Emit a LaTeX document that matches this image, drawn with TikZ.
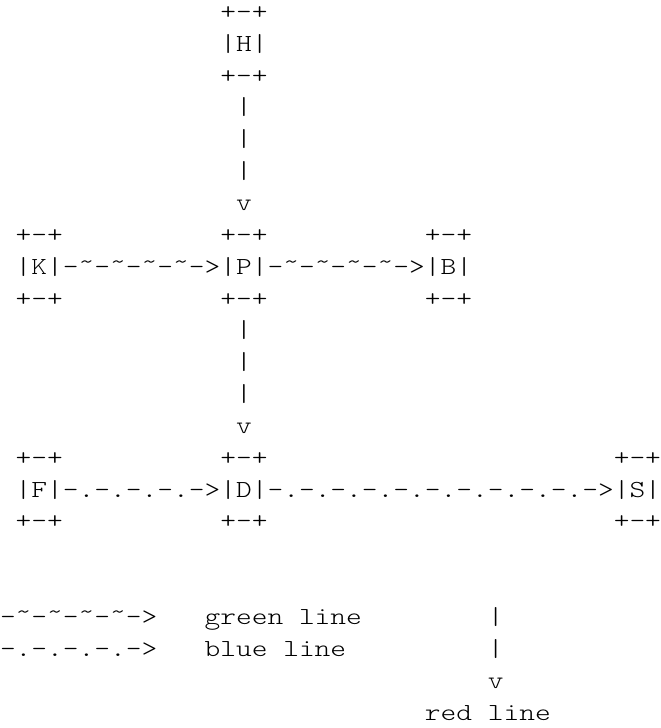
\documentclass[tikz,border=0pt]{standalone}
\usepackage{fontspec}
\newfontfamily\asciifont[Extension=.otf,FakeStretch=1.2235]{lmmonolt10-regular}
\newcommand\tld{\raisebox{5pt}{\textasciitilde}}
\newcommand\asciirows[1]{\begin{tabular}{@{}c@{}}#1\end{tabular}}

\begin{document}
\begin{tikzpicture}[x=15.738pt,y=-31.85pt,
ascii/.style={inner sep=0pt,outer sep=0pt,font={\asciifont\fontsize{24.5}{31.85}\selectfont}}]
\fill[white,use as bounding box] (-0.5,-0.408) rectangle (41.5,22.45);
\path (15,1) node(H)[ascii]{\asciirows{+-+\\|H|\\+-+}}
(15,4.5) node(HP)[ascii]{\asciirows{|\\|\\|\\v}}
(2,8) node(K)[ascii]{\asciirows{+-+\\|K|\\+-+}}
(8.5,8) node(KP)[ascii]{\asciirows{-\tld-\tld-\tld-\tld->}}
(15,8) node(P)[ascii]{\asciirows{+-+\\|P|\\+-+}}
(21.5,8) node(PB)[ascii]{\asciirows{-\tld-\tld-\tld-\tld->}}
(28,8) node(B)[ascii]{\asciirows{+-+\\|B|\\+-+}}
(15,11.5) node(PD)[ascii]{\asciirows{|\\|\\|\\v}}
(2,15) node(F)[ascii]{\asciirows{+-+\\|F|\\+-+}}
(8.5,15) node(FD)[ascii]{\asciirows{-.-.-.-.->}}
(15,15) node(D)[ascii]{\asciirows{+-+\\|D|\\+-+}}
(27.5,15) node(DS)[ascii]{\asciirows{-.-.-.-.-.-.-.-.-.-.->}}
(40,15) node(S)[ascii]{\asciirows{+-+\\|S|\\+-+}};
%legend
\path (4.5,19) node(green)[ascii]{\asciirows{-\tld-\tld-\tld-\tld->}}
(17.5,19) node(greentext)[ascii]{\asciirows{green line}}
(4.5,20) node(blue)[ascii]{\asciirows{-.-.-.-.->}}
(17,20) node(bluetext)[ascii]{\asciirows{blue line}}
(31,20) node(red)[ascii]{\asciirows{|\\|\\v}}
(30.5,22) node(redtext)[ascii]{\asciirows{red line}};
\end{tikzpicture}
\end{document}
